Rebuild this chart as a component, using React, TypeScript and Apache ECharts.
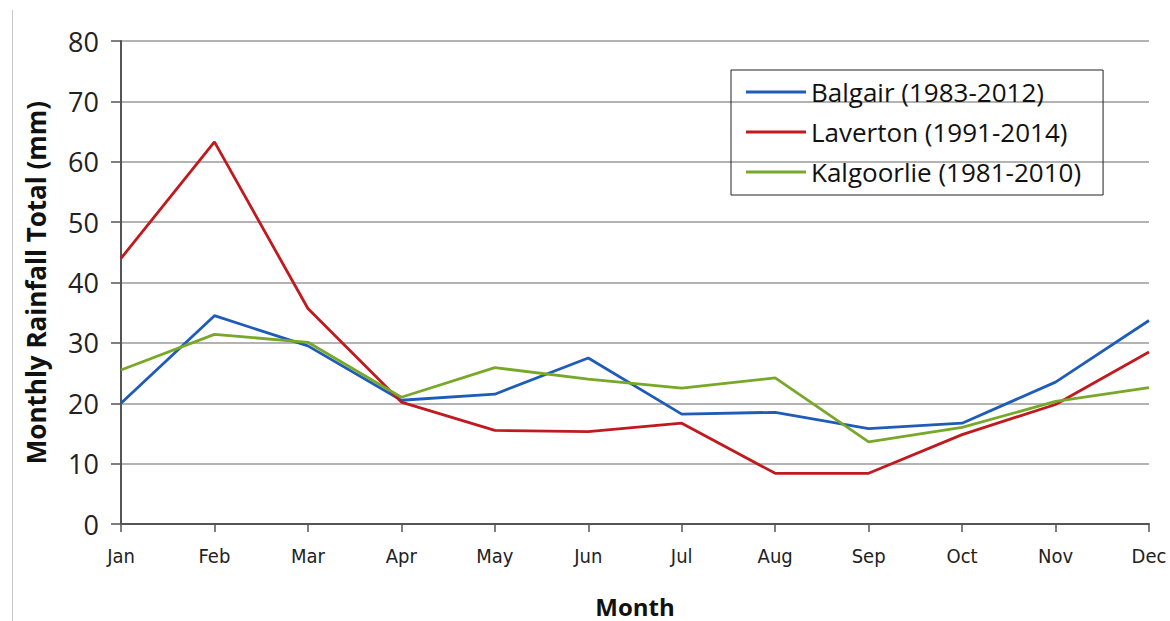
import React, { useEffect, useRef } from "react";
import * as echarts from "echarts";

const months = ["Jan", "Feb", "Mar", "Apr", "May", "Jun", "Jul", "Aug", "Sep", "Oct", "Nov", "Dec"];
const balgair = [20.0, 34.5, 29.5, 20.5, 21.5, 27.5, 18.2, 18.5, 15.8, 16.7, 23.5, 33.7];
const laverton = [44.0, 63.3, 35.7, 20.2, 15.5, 15.3, 16.7, 8.4, 8.4, 14.8, 19.8, 28.5];
const kalgoorlie = [25.5, 31.4, 30.1, 21.0, 25.9, 24.0, 22.5, 24.2, 13.6, 16.0, 20.3, 22.6];
const seriesNames = ["Balgair (1983-2012)", "Laverton (1991-2014)", "Kalgoorlie (1981-2010)"];
const seriesColors = ["#1f5cb8", "#c01a1f", "#78a82a"];

export default function App() {
  const ref = useRef<HTMLDivElement>(null);
  useEffect(() => {
    if (!ref.current) return;
    const chart = echarts.init(ref.current, null, { renderer: "svg" });
    const font = "'Open Sans', 'Noto Sans', sans-serif";
    const datasets = [balgair, laverton, kalgoorlie];
    chart.setOption({
      animation: false,
      backgroundColor: "#fff",
      grid: { left: 121, right: 21, top: 41, bottom: 97, outerBoundsMode: "none", containLabel: false },
      legend: {
        orient: "vertical",
        left: 731,
        top: 70,
        data: seriesNames,
        itemWidth: 60,
        itemHeight: 3,
        itemGap: 12,
        padding: [8, 22, 9, 15],
        borderColor: "#222",
        borderWidth: 1,
        icon: "rect",
        textStyle: {
          fontFamily: font,
          fontSize: 26,
          lineHeight: 28,
          color: "#111",
          padding: [0, 0, 0, 0],
        },
      },
      xAxis: {
        type: "category",
        data: months,
        boundaryGap: false,
        name: "Month",
        nameLocation: "middle",
        nameGap: 70,
        nameTextStyle: { fontFamily: font, fontSize: 24, lineHeight: 24, fontWeight: "bold", color: "#111" },
        axisLine: { lineStyle: { color: "#555", width: 2 } },
        axisTick: { show: true, alignWithLabel: true, length: 8, lineStyle: { color: "#555", width: 1.5 } },
        axisLabel: {
          fontFamily: "'DejaVu Sans Condensed', 'Liberation Sans Narrow', 'Roboto', sans-serif",
          fontSize: 20,
          color: "#222",
          margin: 22,
          interval: 0,
        },
      },
      yAxis: {
        type: "value",
        min: 0,
        max: 80,
        interval: 10,
        name: "Monthly Rainfall Total (mm)",
        nameLocation: "middle",
        nameGap: 72,
        nameTextStyle: { fontFamily: font, fontSize: 26, fontWeight: "bold", color: "#111" },
        axisLine: { show: true, lineStyle: { color: "#555", width: 2 } },
        axisTick: { show: true, length: 10, lineStyle: { color: "#555", width: 1.5 } },
        axisLabel: { fontFamily: font, fontSize: 27, color: "#222", margin: 22 },
        splitLine: { lineStyle: { color: "#9a9a9a", width: 1.5 } },
      },
      series: datasets.map((d, i) => ({
        name: seriesNames[i],
        type: "line",
        data: d,
        symbol: "none",
        lineStyle: { color: seriesColors[i], width: 2.8 },
        itemStyle: { color: seriesColors[i] },
      })),
      graphic: [
        {
          type: "line",
          shape: { x1: 12.5, y1: 10, x2: 12.5, y2: 621 },
          style: { stroke: "#c8c8c8", lineWidth: 1 },
        },
      ],
    });
    return () => chart.dispose();
  }, []);
  return (
    <div
      ref={ref}
      style={{ position: "fixed", left: 0, top: 0, width: 1170, height: 621, background: "#fff" }}
    />
  );
}
